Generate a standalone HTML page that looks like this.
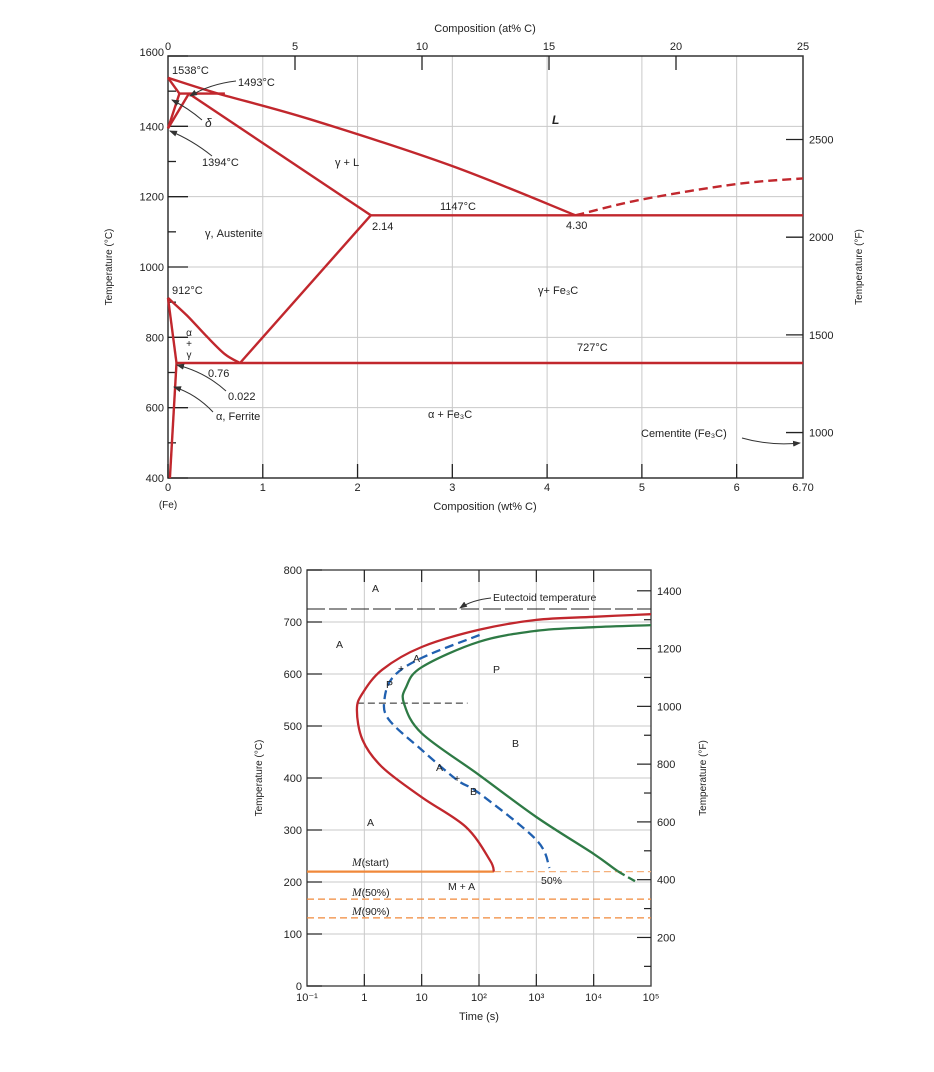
<!DOCTYPE html>
<html><head><meta charset="utf-8"><style>
html,body{margin:0;padding:0;background:#fff}
svg{display:block}
text{font-family:"Liberation Sans",sans-serif;fill:#222}
</style></head><body>
<svg id="c" width="934" height="1072" viewBox="0 0 934 1072">
<defs><marker id="ah" markerWidth="8" markerHeight="6" refX="7" refY="3" orient="auto"><path d="M0,0 L8,3 L0,6 z" fill="#333"/></marker></defs>
<g id="top"></g>
<g id="bot"></g>
</svg>
<script>
// ---------- Phase diagram data (wt% C, °C) ----------
const liquidus=[[0,1538],[0.53,1493],[1.5,1420],[2.98,1289],[4.30,1147]];
const liquidusCementite=[[4.30,1147],[5.0,1192],[6.0,1236],[6.70,1252]];
const deltaLeft=[[0,1538],[0.12,1493],[0,1394]];
const deltaRight=[[0,1394],[0.22,1493]];
const peritectic=[[0.12,1493],[0.6,1493]];
const solidus=[[0.22,1493],[2.14,1147]];
const eutectic=[[2.14,1147],[6.70,1147]];
const acm=[[2.14,1147],[0.76,727]];
const a3=[[0,912],[0.2,862],[0.4,805],[0.6,752],[0.76,727]];
const eutectoid=[[0.09,727],[6.70,727]];
const ferriteTop=[[0,912],[0.09,727]];
const ferriteSolvus=[[0.09,727],[0.02,400]];
const wtTicks=[0,1,2,3,4,5,6];
const atTicks=[0,5,10,15,20,25];
const tempCTicks=[400,600,800,1000,1200,1400,1600];
const tempFTicks=[1000,1500,2000,2500];
// ---------- TTT data (log10 time s, °C) ----------
const startCurve=[[5,715],[4,710],[3,704],[2,685],[1,652],[0.31,608],[-0.03,563],[-0.13,531],[-0.03,473],[0.31,421],[1,363],[1.77,306],[2.19,242],[2.26,220]];
const finishCurve=[[5,694],[4,690],[3,683],[2,662],[1,613],[0.73,575],[0.69,544],[1,486],[2,406],[3,325],[4,254],[4.42,221]];
const finishDashed=[[4.42,221],[4.78,198]];
const halfCurve=[[2.01,675],[1,631],[0.5,594],[0.35,550],[0.43,512],[1,454],[1.62,396],[2,371],[3,281],[3.23,227]];
const eutectoidT=725, noseT=544, msT=220, m50T=167, m90T=131;
const timeTicks=["10\u207B\u00B9","1","10","10\u00B2","10\u00B3","10\u2074","10\u2075"];
const ttTempTicks=[0,100,200,300,400,500,600,700,800];
const ttFTicks=[200,400,600,800,1000,1200,1400];

const NS="http://www.w3.org/2000/svg";
function mk(parent,tag,attrs,txt){const e=document.createElementNS(NS,tag);for(const k in attrs)e.setAttribute(k,attrs[k]);if(txt!==undefined)e.textContent=txt;parent.appendChild(e);return e;}
const RED="#c1272d",GRID="#c9c9c9";

// ---------- TOP ----------
const T=document.getElementById('top');
const L1=168,R1=803,Y1T=56,Y1B=478;
const x1=w=>L1+w*(R1-L1)/6.70;
const y1=c=>Y1B-(c-400)*(Y1B-Y1T)/1200;
const xat=a=>L1+a*(R1-L1)/25;
const yF=f=>y1((f-32)*5/9)+3;
function path1(pts){return pts.map((p,i)=>(i?'L':'M')+x1(p[0]).toFixed(1)+','+y1(p[1]).toFixed(1)).join(' ');}
function smooth(pts,fx,fy,prev,next){let d='M'+fx(pts[0][0]).toFixed(1)+','+fy(pts[0][1]).toFixed(1);const n=pts.length;for(let i=1;i<n;i++){const p0=i-2>=0?pts[i-2]:(prev||pts[0]),p1=pts[i-1],p2=pts[i],p3=i+1<n?pts[i+1]:(next||pts[n-1]);const c1x=fx(p1[0])+(fx(p2[0])-fx(p0[0]))/6,c1y=fy(p1[1])+(fy(p2[1])-fy(p0[1]))/6,c2x=fx(p2[0])-(fx(p3[0])-fx(p1[0]))/6,c2y=fy(p2[1])-(fy(p3[1])-fy(p1[1]))/6;d+=` C${c1x.toFixed(1)},${c1y.toFixed(1)} ${c2x.toFixed(1)},${c2y.toFixed(1)} ${fx(p2[0]).toFixed(1)},${fy(p2[1]).toFixed(1)}`;}return d;}
// grid
wtTicks.slice(1).forEach(w=>{const l=mk(T,'line',{x1:x1(w),x2:x1(w),y1:Y1T,y2:Y1B,stroke:GRID,'stroke-width':1});});
tempCTicks.slice(1,-1).forEach(c=>{const l=mk(T,'line',{x1:L1,x2:R1,y1:y1(c),y2:y1(c),stroke:GRID,'stroke-width':1});});
mk(T,'rect',{x:L1,y:Y1T,width:R1-L1,height:Y1B-Y1T,fill:'none',stroke:'#333','stroke-width':1.5,});
for(let c=400;c<=1600;c+=100){const maj=c%200===0;mk(T,'line',{x1:L1,x2:L1+(maj?20:8),y1:y1(c),y2:y1(c),stroke:'#222','stroke-width':1.3});}
tempCTicks.forEach(c=>{const t=mk(T,'text',{x:L1-4,y:y1(c)+(c===1600?0:4),'text-anchor':'end','font-size':11},c);});
wtTicks.forEach(w=>{mk(T,'line',{x1:x1(w),x2:x1(w),y1:Y1B,y2:Y1B-14,stroke:'#222','stroke-width':1.3});const t=mk(T,'text',{x:x1(w),y:Y1B+13,'text-anchor':'middle','font-size':11},w);});
mk(T,'text',{x:R1,y:Y1B+13,'text-anchor':'middle','font-size':11,},'6.70');
mk(T,'text',{x:L1,y:Y1B+30,'text-anchor':'middle','font-size':10,},'(Fe)');
mk(T,'text',{x:485,y:510,'text-anchor':'middle','font-size':11,},'Composition (wt% C)');
atTicks.forEach(a=>{if(a>0&&a<25)mk(T,'line',{x1:xat(a),x2:xat(a),y1:Y1T,y2:Y1T+14,stroke:'#222','stroke-width':1.3});const t=mk(T,'text',{x:xat(a),y:Y1T-6,'text-anchor':'middle','font-size':11},a);});
mk(T,'text',{x:485,y:32,'text-anchor':'middle','font-size':11,},'Composition (at% C)');
tempFTicks.forEach(f=>{mk(T,'line',{x1:R1-17,x2:R1,y1:yF(f),y2:yF(f),stroke:'#222','stroke-width':1.3});const t=mk(T,'text',{x:R1+6,y:yF(f)+4,'font-size':11},f);});
mk(T,'text',{x:112,y:267,'text-anchor':'middle','font-size':10,transform:'rotate(-90 112 267)',},'Temperature (°C)');
mk(T,'text',{x:862,y:267,'text-anchor':'middle','font-size':10,transform:'rotate(-90 862 267)',},'Temperature (°F)');
const lines=[[liquidus,'liquidus',true],[deltaLeft,'delta-boundary-left'],[deltaRight,'delta-boundary-right'],[peritectic,'peritectic-line'],[solidus,'solidus'],[eutectic,'eutectic-line'],[acm,'acm-line'],[a3,'a3-line',true],[eutectoid,'eutectoid-line'],[ferriteTop,'ferrite-boundary'],[ferriteSolvus,'ferrite-solvus']];
lines.forEach(([pts,name,sm])=>{const p=mk(T,'path',{d:sm?smooth(pts,x1,y1):path1(pts),fill:'none',stroke:RED,'stroke-width':2.4,'stroke-linejoin':'round'});});
mk(T,'path',{d:smooth(liquidusCementite,x1,y1),fill:'none',stroke:RED,'stroke-width':2.4,'stroke-dasharray':'9,5',});
const lbl=[[172,74,'1538°C'],[238,86,'1493°C'],[202,166,'1394°C'],[440,210,'1147°C'],[372,230,'2.14'],[566,229,'4.30'],[205,237,'γ, Austenite'],[172,294,'912°C'],[538,294,'γ+ Fe₃C'],[577,351,'727°C'],[208,377,'0.76'],[228,400,'0.022'],[216,420,'α, Ferrite'],[428,418,'α + Fe₃C'],[641,437,'Cementite (Fe₃C)'],[335,166,'γ + L']];
lbl.forEach(([x,y,s])=>{const t=mk(T,'text',{x:x,y:y,'font-size':11},s);});
mk(T,'text',{x:552,y:124,'font-size':12,'font-style':'italic','font-weight':'bold','font-family':'Liberation Serif',},'L');
mk(T,'text',{x:205,y:127,'font-size':12,'font-style':'italic',},'δ');
[['α',336],['+',347],['γ',358]].forEach(([s,y])=>mk(T,'text',{x:189,y:y,'font-size':10,'text-anchor':'middle',},s));
const arrows=[['M236,81 Q210,84 190,96','arrow-1493'],['M202,120 Q188,108 172,100','arrow-delta'],['M212,156 Q192,140 170,131','arrow-1394'],['M226,391 Q205,372 177,365','arrow-0022'],['M213,412 Q196,394 174,387','arrow-ferrite'],['M742,438 Q770,446 800,443','arrow-cementite']];
arrows.forEach(([d,n])=>{const p=mk(T,'path',{d:d,fill:'none',stroke:'#333','stroke-width':1,'marker-end':'url(#ah)'});});

// ---------- BOTTOM ----------
const B=document.getElementById('bot');
const L2=307,R2=651,Y2T=570,Y2B=986;
const x2=lt=>L2+(lt+1)*(R2-L2)/6;
const y2=c=>Y2B-c*(Y2B-Y2T)/800;
const yF2=f=>y2((f-32)*5/9);
for(let i=1;i<6;i++){const l=mk(B,'line',{x1:x2(i-1),x2:x2(i-1),y1:Y2T,y2:Y2B,stroke:GRID,'stroke-width':1});}
ttTempTicks.slice(1,-1).forEach(c=>{const l=mk(B,'line',{x1:L2,x2:R2,y1:y2(c),y2:y2(c),stroke:GRID,'stroke-width':1});});
mk(B,'rect',{x:L2,y:Y2T,width:R2-L2,height:Y2B-Y2T,fill:'none',stroke:'#444','stroke-width':1.4,});
ttTempTicks.forEach(c=>{mk(B,'line',{x1:L2,x2:L2+15,y1:y2(c),y2:y2(c),stroke:'#222','stroke-width':1.2});const t=mk(B,'text',{x:L2-5,y:y2(c)+4,'text-anchor':'end','font-size':11},c);});
timeTicks.forEach((s,i)=>{const xx=x2(i-1);if(i>0&&i<6){mk(B,'line',{x1:xx,x2:xx,y1:Y2B,y2:Y2B-12,stroke:'#222','stroke-width':1.2});mk(B,'line',{x1:xx,x2:xx,y1:Y2T,y2:Y2T+12,stroke:'#222','stroke-width':1.2});}const t=mk(B,'text',{x:xx,y:Y2B+15,'text-anchor':'middle','font-size':11},s);});
mk(B,'text',{x:479,y:1020,'text-anchor':'middle','font-size':11,},'Time (s)');
for(let f=100;f<=1400;f+=100){const yy=yF2(f);if(yy<Y2T||yy>Y2B)continue;const maj=f%200===0;mk(B,'line',{x1:R2-(maj?14:7),x2:R2,y1:yy,y2:yy,stroke:'#222','stroke-width':1.2});}
ttFTicks.forEach(f=>{const t=mk(B,'text',{x:R2+6,y:yF2(f)+4,'font-size':11},f);});
mk(B,'text',{x:262,y:778,'text-anchor':'middle','font-size':10,transform:'rotate(-90 262 778)',},'Temperature (°C)');
mk(B,'text',{x:706,y:778,'text-anchor':'middle','font-size':10,transform:'rotate(-90 706 778)',},'Temperature (°F)');
mk(B,'line',{x1:L2,x2:R2,y1:y2(eutectoidT),y2:y2(eutectoidT),stroke:'#222','stroke-width':1,'stroke-dasharray':'18,4',});
mk(B,'line',{x1:x2(-0.13),x2:x2(1.8),y1:y2(noseT),y2:y2(noseT),stroke:'#222','stroke-width':1,'stroke-dasharray':'7,4',});
mk(B,'line',{x1:L2,x2:x2(2.26),y1:y2(msT),y2:y2(msT),stroke:'#f0883a','stroke-width':2.2,});
mk(B,'line',{x1:x2(2.26),x2:R2,y1:y2(msT),y2:y2(msT),stroke:'#f5b07a','stroke-width':1.2,'stroke-dasharray':'7,4',});
mk(B,'line',{x1:L2,x2:R2,y1:y2(m50T),y2:y2(m50T),stroke:'#f0883a','stroke-width':1.2,'stroke-dasharray':'7,4',});
mk(B,'line',{x1:L2,x2:R2,y1:y2(m90T),y2:y2(m90T),stroke:'#f0883a','stroke-width':1.2,'stroke-dasharray':'7,4',});
mk(B,'path',{d:smooth(startCurve,x2,y2),fill:'none',stroke:RED,'stroke-width':2.3,});
mk(B,'path',{d:smooth(finishCurve,x2,y2,null,finishDashed[1]),fill:'none',stroke:'#2e7a45','stroke-width':2.3,});
mk(B,'path',{d:smooth(finishDashed,x2,y2,finishCurve[finishCurve.length-2],null),fill:'none',stroke:'#2e7a45','stroke-width':2.3,'stroke-dasharray':'8,4',});
mk(B,'path',{d:smooth(halfCurve,x2,y2),fill:'none',stroke:'#2060b0','stroke-width':2.3,'stroke-dasharray':'9,5',});
const bl=[[372,592,'A'],[336,648,'A'],[493,673,'P'],[413,662,'A'],[398,672,'+'],[386,688,'P'],[512,747,'B'],[436,771,'A'],[454,782,'+'],[470,795,'B'],[367,826,'A'],[541,884,'50%'],[448,890,'M + A'],[493,601,'Eutectoid temperature']];
bl.forEach(([x,y,s])=>{const t=mk(B,'text',{x:x,y:y,'font-size':10.5},s);});
[[352,866,'(start)'],[352,896,'(50%)'],[352,915,'(90%)']].forEach(([x,y,s])=>{const t=mk(B,'text',{x:x,y:y,'font-size':10.5});mk(t,'tspan',{'font-family':'Liberation Serif','font-style':'italic','font-size':11.5},'M');mk(t,'tspan',{},s);});
mk(B,'path',{d:'M491,598 Q472,600 460,608',fill:'none',stroke:'#333','stroke-width':1,'marker-end':'url(#ah)',});
</script>
</body></html>
